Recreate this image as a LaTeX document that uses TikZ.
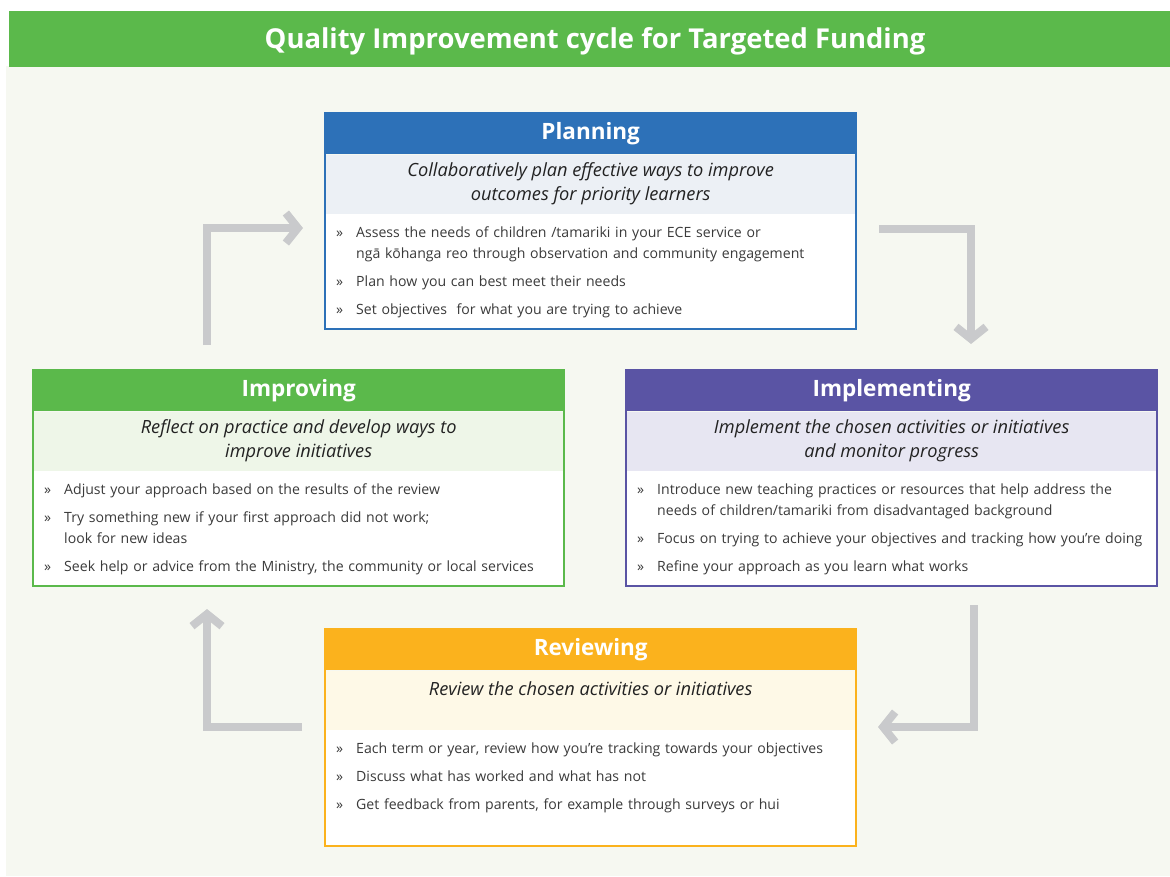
\documentclass[tikz,border=0pt]{standalone}
\usepackage{fontspec}
\setmainfont{Open Sans}
\usetikzlibrary{arrows.meta}

\definecolor{qigreen}{HTML}{5BB94B}
\definecolor{qiblue}{HTML}{2D71B8}
\definecolor{qipurple}{HTML}{5A54A4}
\definecolor{qiorange}{HTML}{FBB21D}
\definecolor{bandblue}{HTML}{ECF0F5}
\definecolor{bandpurple}{HTML}{E7E6F2}
\definecolor{bandgreen}{HTML}{EEF6E8}
\definecolor{bandorange}{HTML}{FEF9E7}
\definecolor{qiback}{HTML}{F6F8F1}
\definecolor{qiarrow}{HTML}{C9CACC}
\definecolor{qitext}{HTML}{222222}
\definecolor{qibody}{HTML}{3A3A3A}

\newcommand{\bodyfont}{\fontsize{14.1}{21}\selectfont}
\newcommand{\subfont}{\fontsize{18.2}{24}\selectfont\itshape}
\newcommand{\headfont}{\fontsize{22.5}{26}\selectfont\bfseries}
\newcommand{\qi}[1]{{\hangindent=20pt\hangafter=1\noindent\makebox[20pt][l]{»}#1\par}\addvspace{7pt}}

\tikzset{
  headbox/.style={anchor=north west, inner sep=0pt, minimum width=531pt, minimum height=41pt, fill=#1, text=white, font=\headfont},
  subbox/.style={anchor=north west, inner sep=0pt, minimum width=531pt, minimum height=59pt, fill=#1, align=center, text=qitext, font=\subfont},
  bodybox/.style={anchor=north west, fill=white, inner xsep=11pt, inner ysep=6pt, text width=509pt, text height=17pt, text depth=#1, align=left, text=qibody, font=\bodyfont},
  bodybox/.default=86pt,
  boxframe/.style={draw=#1, line width=2pt},
  cyclearrow/.style={draw=qiarrow, line width=8pt, -{Straight Barb[length=12pt,width=30pt]}},
}

\begin{document}
\begin{tikzpicture}[x=1pt,y=-1pt]
	\useasboundingbox (0,0) rectangle (1170,876);
	\fill[white] (0,0) rectangle (1170,876);
	\fill[qiback] (6,66) rectangle (1170,876);
	\fill[qigreen] (9,11) rectangle (1170,67);
	\node[text=white, font=\fontsize{27.4}{30}\selectfont\bfseries] (title) at (595,41) {Quality Improvement cycle for Targeted Funding};

	% Planning
	\node[headbox=qiblue] (plan-head) at (325,113) {Planning};
	\node[subbox=bandblue] (plan-sub) at (plan-head.south west) {Collaboratively plan effective ways to improve\\outcomes for priority learners};
	\node[bodybox] (plan-body) at (plan-sub.south west) {%
		\qi{Assess the needs of children /tamariki in your ECE service or\newline ngā kōhanga reo through observation and community engagement}
		\qi{Plan how you can best meet their needs}
		\qi{Set objectives\ \ for what you are trying to achieve}};
	\draw[boxframe=qiblue] (plan-head.north west) rectangle (plan-body.south east);

	% Implementing
	\node[headbox=qipurple] (impl-head) at (626,370) {Implementing};
	\node[subbox=bandpurple] (impl-sub) at (impl-head.south west) {Implement the chosen activities or initiatives\\and monitor progress};
	\node[bodybox] (impl-body) at (impl-sub.south west) {%
		\qi{Introduce new teaching practices or resources that help address the\newline needs of children/tamariki from disadvantaged background}
		\qi{Focus on trying to achieve your objectives and tracking how you're doing}
		\qi{Refine your approach as you learn what works}};
	\draw[boxframe=qipurple] (impl-head.north west) rectangle (impl-body.south east);

	% Improving
	\node[headbox=qigreen] (impr-head) at (33,370) {Improving};
	\node[subbox=bandgreen] (impr-sub) at (impr-head.south west) {Reflect on practice and develop ways to\\improve initiatives};
	\node[bodybox] (impr-body) at (impr-sub.south west) {%
		\qi{Adjust your approach based on the results of the review}
		\qi{Try something new if your first approach did not work;\newline look for new ideas}
		\qi{Seek help or advice from the Ministry, the community or local services}};
	\draw[boxframe=qigreen] (impr-head.north west) rectangle (impr-body.south east);

	% Reviewing
	\node[headbox=qiorange] (rev-head) at (325,629) {Reviewing};
	\node[subbox=bandorange] (rev-sub) at (rev-head.south west) {Review the chosen activities or initiatives\\~};
	\node[bodybox=87pt] (rev-body) at (rev-sub.south west) {%
		\qi{Each term or year, review how you're tracking towards your objectives}
		\qi{Discuss what has worked and what has not}
		\qi{Get feedback from parents, for example through surveys or hui}};
	\draw[boxframe=qiorange] (rev-head.north west) rectangle (rev-body.south east);

	% cycle arrows
	\coordinate (a1s) at (207,345);
	\coordinate (a1e) at (303,228);
	\coordinate (a2s) at (879,229);
	\coordinate (a2e) at (971,344);
	\coordinate (a3s) at (974,605);
	\coordinate (a3e) at (878,727);
	\coordinate (a4s) at (302,727);
	\coordinate (a4e) at (207,609);
	\draw[cyclearrow] (a1s) |- (a1e);
	\draw[cyclearrow] (a2s) -| (a2e);
	\draw[cyclearrow] (a3s) |- (a3e);
	\draw[cyclearrow] (a4s) -| (a4e);
\end{tikzpicture}
\end{document}
